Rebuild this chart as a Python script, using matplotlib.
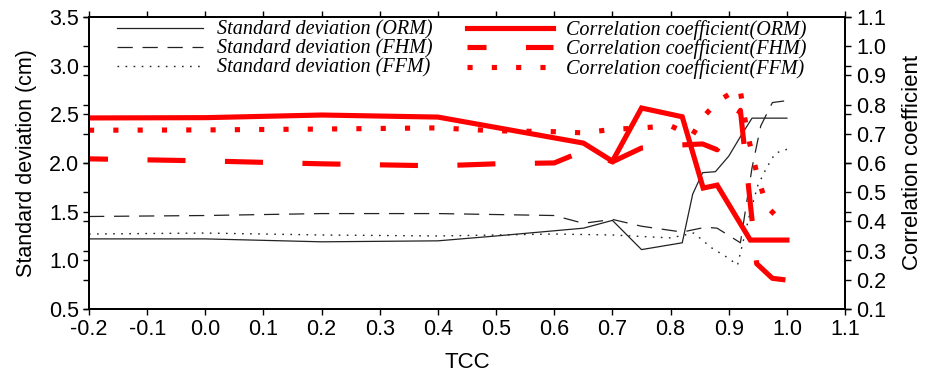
import matplotlib
matplotlib.use("Agg")
import matplotlib.pyplot as plt
from matplotlib.font_manager import FontProperties

plt.rcParams['font.family'] = ['Liberation Sans', 'DejaVu Sans']
plt.rcParams['lines.scale_dashes'] = False

# standard deviation (left axis, cm)
x_orm_sd = [-0.2, 0.0, 0.2, 0.4, 0.5, 0.65, 0.7, 0.75, 0.82, 0.838, 0.855, 0.877, 0.9, 0.92, 0.94, 1.0]
sd_orm = [1.22, 1.22, 1.19, 1.20, 1.25, 1.33, 1.41, 1.11, 1.18, 1.68, 1.90, 1.91, 2.07, 2.27, 2.46, 2.46]

x_fhm_sd = [-0.2, 0.0, 0.2, 0.4, 0.6, 0.65, 0.7, 0.75, 0.82, 0.86, 0.88, 0.92, 0.94, 0.955, 0.975, 1.0]
sd_fhm = [1.45, 1.46, 1.48, 1.48, 1.46, 1.38, 1.42, 1.35, 1.29, 1.34, 1.33, 1.18, 1.95, 2.38, 2.62, 2.64]

x_ffm_sd = [-0.2, 0.0, 0.2, 0.4, 0.6, 0.7, 0.8, 0.84, 0.87, 0.9, 0.915, 0.935, 0.95, 0.965, 0.98, 1.0]
sd_ffm = [1.27, 1.28, 1.26, 1.25, 1.27, 1.26, 1.23, 1.28, 1.13, 1.02, 0.95, 1.45, 1.77, 1.95, 2.10, 2.14]

# correlation coefficient (right axis)
x_orm_cc = [-0.2, 0.0, 0.2, 0.4, 0.65, 0.7, 0.75, 0.82, 0.856, 0.88, 0.937, 1.0]
cc_orm = [0.754, 0.755, 0.764, 0.757, 0.668, 0.606, 0.788, 0.758, 0.514, 0.524, 0.336, 0.336]

x_fhm_cc = [-0.2, 0.0, 0.2, 0.4, 0.5, 0.6, 0.65, 0.7, 0.75, 0.8, 0.855, 0.88, 0.92, 0.948, 0.975, 1.0]
cc_fhm = [0.614, 0.607, 0.597, 0.59, 0.597, 0.60, 0.641, 0.604, 0.651, 0.66, 0.665, 0.645, 0.78, 0.255, 0.205, 0.199]

x_ffm_cc = [-0.2, 0.0, 0.2, 0.4, 0.5, 0.6, 0.65, 0.7, 0.75, 0.8, 0.837, 0.855, 0.88, 0.919, 0.932, 0.95, 0.966, 1.0]
cc_ffm = [0.712, 0.713, 0.716, 0.72, 0.71, 0.707, 0.703, 0.715, 0.72, 0.727, 0.693, 0.754, 0.81, 0.857, 0.70, 0.55, 0.45, 0.38]

sd_ticks = [0.5, 1.0, 1.5, 2.0, 2.5, 3.0, 3.5]
cc_ticks = [0.1, 0.2, 0.3, 0.4, 0.5, 0.6, 0.7, 0.8, 0.9, 1.0, 1.1]
x_ticks = [-0.2, -0.1, 0.0, 0.1, 0.2, 0.3, 0.4, 0.5, 0.6, 0.7, 0.8, 0.9, 1.0, 1.1]

fig = plt.figure(figsize=(9.3, 3.75), dpi=100)
ax = fig.add_axes([0.0957, 0.176, 0.813, 0.779])
ax2 = ax.twinx()

blk = '#222222'
l1, = ax.plot(x_orm_sd, sd_orm, color=blk, lw=0.9)
l2, = ax.plot(x_fhm_sd, sd_fhm, color=blk, lw=0.9, dashes=(11, 7))
l3, = ax.plot(x_ffm_sd, sd_ffm, color=blk, lw=1.0, dashes=(1.2, 4.6))

red = '#ff0000'
r1, = ax2.plot(x_orm_cc, cc_orm, color=red, lw=3.7, solid_joinstyle='miter')
r2, = ax2.plot(x_fhm_cc, cc_fhm, color=red, lw=3.7, linestyle=(13.7, (27.4, 28.4)), dash_capstyle='butt')
r3, = ax2.plot(x_ffm_cc, cc_ffm, color=red, lw=3.7, dashes=(3.7, 13.8), dash_capstyle='butt')

ax.set_xlim(-0.2, 1.1)
ax.set_ylim(0.5, 3.5)
ax2.set_ylim(0.1, 1.1)
ax.set_xticks(x_ticks)
ax.set_xticklabels(['%.1f' % v for v in x_ticks])
ax.set_yticks(sd_ticks)
ax.set_yticklabels(['%.1f' % v for v in sd_ticks])
ax2.set_yticks(cc_ticks)
ax2.set_yticklabels(['%.1f' % v for v in cc_ticks])

ax.tick_params(direction='out', length=4, width=1, labelsize=15.5, top=True, right=True, pad=3)
ax2.tick_params(direction='out', length=4, width=1, labelsize=15.5, left=True, labelleft=False, pad=4)
for a in (ax, ax2):
    for s in a.spines.values():
        s.set_linewidth(1.3)

ax.set_xlabel('TCC', fontsize=16, labelpad=9)
ax.set_ylabel('Standard deviation (cm)', fontsize=15.5, labelpad=9)
ax2.set_ylabel('Correlation coefficient', fontsize=16, labelpad=11)

leg_font = FontProperties(family='Liberation Serif', style='italic', size=14.5)
ax2.legend([l1, l2, l3, r1, r2, r3],
           ['Standard deviation (ORM)', 'Standard deviation (FHM)', 'Standard deviation (FFM)',
            'Correlation coefficient(ORM)', 'Correlation coefficient(FHM)', 'Correlation coefficient(FFM)'],
           ncol=2, loc='upper left', bbox_to_anchor=(117 / 930, 1 - 20 / 375),
           bbox_transform=fig.transFigure, frameon=False, prop=leg_font,
           handlelength=4.27, handletextpad=0.69, columnspacing=1.69,
           labelspacing=-0.02, borderpad=0, borderaxespad=0)

fig.savefig('out.png', dpi=100)
